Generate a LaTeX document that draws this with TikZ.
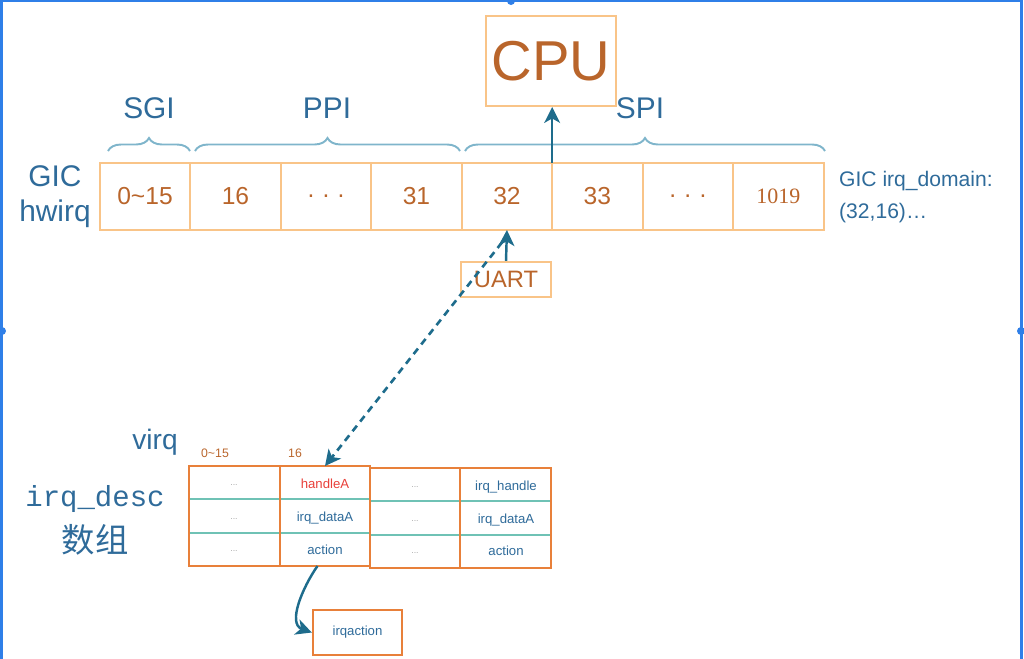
\documentclass[tikz,border=0pt]{standalone}
\usepackage{fontspec}
\setmainfont{Liberation Sans}
\newfontfamily\cjkfont{Noto Sans CJK SC}
\newfontfamily\monofont{Liberation Mono}
\newfontfamily\numfont{Liberation Serif}
\usetikzlibrary{positioning,arrows.meta,decorations.pathreplacing}
\definecolor{boxorange}{RGB}{249,196,136}
\definecolor{deeporange}{RGB}{232,128,58}
\definecolor{numorange}{RGB}{185,101,43}
\definecolor{labelblue}{RGB}{47,107,154}
\definecolor{bracecol}{RGB}{127,181,203}
\definecolor{arrowteal}{RGB}{30,108,140}
\definecolor{rowgreen}{RGB}{111,194,181}
\definecolor{frameblue}{RGB}{47,127,232}
\definecolor{handlered}{RGB}{232,64,58}

\begin{document}
\begin{tikzpicture}[
    x=0.02cm, y=-0.02cm,
    >={Stealth[length=9pt,width=9pt,inset=2.5pt]},
    cell/.style={
        rectangle, draw=boxorange, line width=1.2pt, outer sep=0pt,
        minimum width=1.81cm, minimum height=1.34cm,
        text=numorange, font=\fontsize{14}{16}\selectfont
    },
    desccol/.style={
        rectangle, draw=deeporange, line width=1.4pt, outer sep=0pt,
        minimum width=1.81cm, minimum height=2cm
    },
    desctext/.style={text=labelblue, font=\fontsize{7.5}{9}\selectfont},
    descdots/.style={text=gray!70, font=\fontsize{5}{6}\selectfont},
    label/.style={text=labelblue, font=\fontsize{17}{20}\selectfont, align=center},
    brc/.style={decorate, decoration={brace, amplitude=0.26cm}, draw=bracecol, line width=1.1pt},
    link/.style={->, draw=arrowteal, line width=1.4pt}
]
\useasboundingbox (0,0) rectangle (1024,659);

% frame of the slide
\draw[frameblue, line width=1.5pt] (1.5,659) -- (1.5,1) -- (1021.5,1) -- (1021.5,659);
\fill[frameblue] (2,331) circle (4) (1021,331) circle (4) (511,1) circle (4);

% hwirq row
\node[cell] (h0) at (145,196.5) {0\textasciitilde15};
\node[cell, right=0pt of h0] (h16) {16};
\node[cell, right=0pt of h16] (hdotsA) {.\,\,.\,\,.};
\node[cell, right=0pt of hdotsA] (h31) {31};
\node[cell, right=0pt of h31] (h32) {32};
\node[cell, right=0pt of h32] (h33) {33};
\node[cell, right=0pt of h33] (hdotsB) {.\,\,.\,\,.};
\node[cell, right=0pt of hdotsB, font=\numfont\fontsize{12.5}{14}\selectfont] (h1019) {1019};

\node[label] (gic) at (55,197) {GIC\\hwirq};
\node[text=labelblue, font=\fontsize{12}{18}\selectfont, align=left, anchor=west] (domain) at (833,197) {GIC irq\_domain:\\(32,16)\ldots};

% ranges
\draw[brc] (108,151) -- (190,151);
\draw[brc] (195,151) -- (460,151);
\draw[brc] (465,151) -- (825,151);
\node[label] (sgi) at (149,108) {SGI};
\node[label] (ppi) at (327,108) {PPI};
\node[label] (spi) at (640,108) {SPI};

% cpu and uart
\node[rectangle, draw=boxorange, line width=1.2pt, minimum width=2.36cm, minimum height=1.8cm,
      text=numorange, font=\fontsize{32}{36}\selectfont] (cpu) at (551,61) {CPU};
\node[rectangle, draw=boxorange, line width=1.2pt, minimum width=1.8cm, minimum height=0.7cm,
      text=numorange, font=\fontsize{13.5}{15}\selectfont] (uart) at (506,279.5) {UART};

\draw[link] (h32.north east) -- (cpu.south -| h32.north east);
\draw[link] (uart.north) -- (h32.south);

% irq_desc array
\node[label, font=\fontsize{16}{18}\selectfont] (virq) at (155,442) {virq};
\node[text=numorange, font=\fontsize{7}{8}\selectfont] (vlo) at (215,453) {0\textasciitilde15};
\node[text=numorange, font=\fontsize{7}{8}\selectfont] (vsix) at (295,453) {16};
\node[text=labelblue, font=\monofont\fontsize{16.5}{18}\selectfont] (descname) at (95,499) {irq\_desc};
\node[text=labelblue, font=\cjkfont\fontsize{19}{21}\selectfont] (descarr) at (95,540) {数组};

\node[desccol] (d0) at (234.5,516) {};
\node[desccol, right=0pt of d0] (d16) {};
\node[desccol] (dx) at (415,518) {};
\node[desccol, right=0pt of dx] (dy) {};

\draw[rowgreen, line width=1.2pt] (d0.west |- 0,499) -- (d16.east |- 0,499);
\draw[rowgreen, line width=1.2pt] (d0.west |- 0,533) -- (d16.east |- 0,533);
\draw[rowgreen, line width=1.2pt] (dx.west |- 0,501) -- (dy.east |- 0,501);
\draw[rowgreen, line width=1.2pt] (dx.west |- 0,535) -- (dy.east |- 0,535);
\node[desccol] at (d0) {};
\node[desccol] at (d16) {};
\node[desccol] at (dx) {};
\node[desccol] at (dy) {};

\node[descdots] (a1) at (234,485) {...};
\node[descdots] (a2) at (234,519) {...};
\node[descdots] (a3) at (234,551) {...};
\node[desctext, text=handlered] (b1) at (325,484) {handleA};
\node[desctext] (b2) at (325,518) {irq\_dataA};
\node[desctext] (b3) at (325,550) {action};
\node[descdots] (c1) at (415,487) {...};
\node[descdots] (c2) at (415,521) {...};
\node[descdots] (c3) at (415,553) {...};
\node[desctext] (e1) at (506,487) {irq\_handle};
\node[desctext] (e2) at (506,520) {irq\_dataA};
\node[desctext] (e3) at (506,551) {action};

\node[rectangle, draw=deeporange, line width=1.4pt, minimum width=1.78cm, minimum height=0.9cm,
      desctext] (act) at (357.5,632.5) {irqaction};

\draw[link, line width=1.5pt, dash pattern=on 4pt off 3pt] ([shift={(-0.1cm,-0.25cm)}]h32.south) -- (d16.north);
\draw[link] ([xshift=-0.15cm]d16.south) to[out=-125, in=160] (act.west);

\end{tikzpicture}
\end{document}
